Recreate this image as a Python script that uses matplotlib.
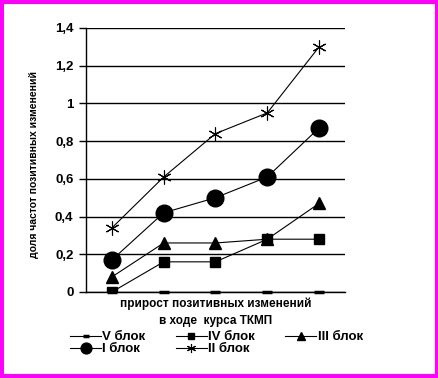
import matplotlib.pyplot as plt
from matplotlib.patches import Rectangle

plt.rcParams['font.family'] = ['Liberation Sans', 'DejaVu Sans']

# Data
steps = [0, 1, 2, 3, 4]
block_v = [0, 0, 0, 0, 0]
block_iv = [0, 0.16, 0.16, 0.28, 0.28]
block_iii = [0.08, 0.26, 0.26, 0.28, 0.47]
block_i = [0.17, 0.42, 0.50, 0.61, 0.87]
block_ii = [0.34, 0.61, 0.84, 0.95, 1.30]
y_ticks = [0, 0.2, 0.4, 0.6, 0.8, 1.0, 1.2, 1.4]
y_tick_labels = ['0', '0,2', '0,4', '0,6', '0,8', '1', '1,2', '1,4']

W, H = 439, 378
fig = plt.figure(figsize=(W / 100, H / 100), dpi=100, facecolor='#FF00FF')
# white inner area inside the magenta frame
fig.patches.append(Rectangle((4 / W, 4 / H), 1 - 8 / W, 1 - 8 / H,
                             transform=fig.transFigure, facecolor='white',
                             edgecolor='none', zorder=-5))

ax = fig.add_axes([86 / W, 1 - 292 / H, (345 - 86) / W, (292 - 28) / H])
ax.set_facecolor('none')

lw = 0.8
ax.plot(steps, block_v, color='black', lw=lw, marker='_', ms=7, mew=2.5,
        label='V блок', clip_on=False, zorder=3)
ax.plot(steps, block_iv, color='black', lw=lw, marker='s', ms=7.5,
        label='IV блок', zorder=3)
ax.plot(steps, block_iii, color='black', lw=lw, marker='^', ms=8.5,
        label='III блок', zorder=3)
ax.plot(steps, block_i, color='black', lw=lw, marker='o', ms=12,
        label='I блок', zorder=3)
ax.plot(steps, block_ii, color='black', lw=lw, marker=(6, 2, 0), ms=10,
        mew=0.8, label='II блок', zorder=3)

ax.set_xlim(-0.5, 4.5)
ax.set_ylim(0, 1.4)
ax.set_yticks(y_ticks)
ax.set_yticklabels(y_tick_labels, fontsize=9.5, fontweight='bold')
ax.set_xticks([])
ax.grid(axis='y', color='black', lw=1)
for side in ['top', 'right']:
    ax.spines[side].set_visible(False)
ax.spines['left'].set_linewidth(1)
ax.spines['bottom'].set_linewidth(1)
ax.tick_params(axis='y', length=5, width=1, pad=4)

ax.set_xlabel('прирост позитивных изменений\nв ходе  курса ТКМП',
              fontsize=8.5, fontweight='bold', linespacing=1.55, labelpad=4)

fig.text(34 / W, 1 - 164 / H, 'доля частот позитивных изменений',
         rotation=90, ha='center', va='center', fontsize=7.5,
         fontweight='bold')

h, l = ax.get_legend_handles_labels()
order = [0, 3, 1, 4, 2]
fig.legend([h[i] for i in order], [l[i] for i in order], ncol=3,
           loc='upper left', bbox_to_anchor=(70 / W, 1 - 331 / H),
           frameon=False, prop={'weight': 'bold', 'size': 9.5},
           markerscale=0.65, handlelength=2.35, handletextpad=0.1,
           columnspacing=2.3, labelspacing=0.0, borderpad=0,
           borderaxespad=0)

fig.savefig('out.png', dpi=100, facecolor=fig.get_facecolor())
